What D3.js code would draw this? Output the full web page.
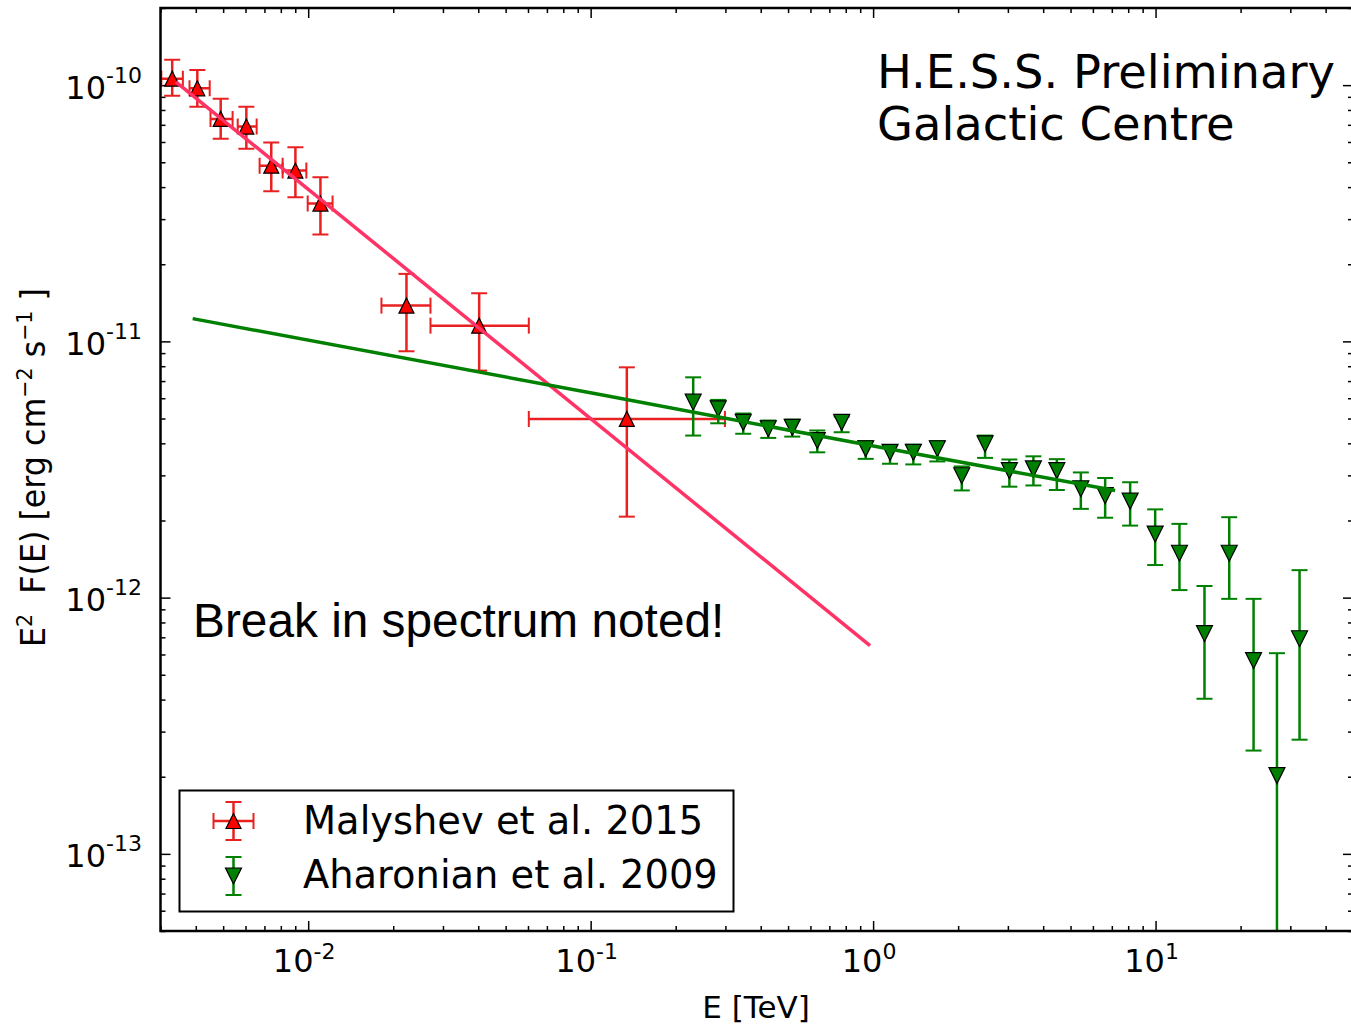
<!DOCTYPE html>
<html>
<head>
<meta charset="utf-8">
<script src="https://cdn.jsdelivr.net/npm/d3@7"></script>
<style>
    body { margin: 0; background: #fff; }
    svg { display: block; }
</style>
</head>
<body>
<svg id="chart"></svg>
<script>
// axis limits
const xLimits = [0.003, 50];
const yLimits = [5e-14, 2e-10];
const xMajorTicks = [1e-2, 1e-1, 1, 10];
const xTickExp = ['-2', '-1', '0', '1'];
const yMajorTicks = [1e-10, 1e-11, 1e-12, 1e-13];
const yTickExp = ['-10', '-11', '-12', '-13'];

// Malyshev et al. 2015 (red)
const redE    = [0.0033, 0.00405, 0.0049, 0.00604, 0.0074, 0.00901, 0.01105, 0.02228, 0.0403, 0.1343];
const redElo  = [0.00302, 0.0038, 0.00451, 0.00563, 0.00673, 0.00812, 0.00996, 0.01817, 0.0271, 0.0604];
const redEhi  = [0.0036, 0.00448, 0.0054, 0.00657, 0.00812, 0.00985, 0.0122, 0.0271, 0.0604, 0.2988];
const redF    = [1.06e-10, 9.72e-11, 7.38e-11, 6.89e-11, 4.85e-11, 4.64e-11, 3.45e-11, 1.379e-11, 1.152e-11, 4.98e-12];
const redFhi  = [1.257e-10, 1.146e-10, 8.84e-11, 8.24e-11, 5.97e-11, 5.72e-11, 4.37e-11, 1.834e-11, 1.541e-11, 7.92e-12];
const redFlo  = [9.10e-11, 8.24e-11, 6.17e-11, 5.64e-11, 3.85e-11, 3.65e-11, 2.61e-11, 9.15e-12, 7.69e-12, 2.07e-12];

// Aharonian et al. 2009 (green)
const greenE   = [0.2307, 0.2829, 0.3469, 0.4254, 0.5173, 0.6344, 0.774, 0.9415, 1.148, 1.388, 1.688, 2.06, 2.491,
                  3.037, 3.694, 4.472, 5.438, 6.63, 8.128, 9.968, 12.15, 14.9, 18.23, 22.23, 26.9, 32.34];
const greenF   = [5.79e-12, 5.45e-12, 4.83e-12, 4.56e-12, 4.62e-12, 4.10e-12, 4.83e-12, 3.81e-12, 3.69e-12, 3.69e-12,
                  3.81e-12, 2.99e-12, 3.98e-12, 3.13e-12, 3.18e-12, 3.13e-12, 2.66e-12, 2.50e-12, 2.38e-12, 1.77e-12,
                  1.49e-12, 7.24e-13, 1.49e-12, 5.68e-13, 2.02e-13, 6.91e-13];
const greenFhi = [7.24e-12, 5.91e-12, 5.23e-12, 4.91e-12, 4.95e-12, 4.49e-12, 5.09e-12, 4.08e-12, 3.92e-12, 3.95e-12,
                  4.08e-12, 3.25e-12, 4.29e-12, 3.46e-12, 3.56e-12, 3.47e-12, 3.08e-12, 2.93e-12, 2.82e-12, 2.21e-12,
                  1.94e-12, 1.11e-12, 2.06e-12, 9.89e-13, 6.07e-13, 1.28e-12];
const greenFlo = [4.29e-12, 4.79e-12, 4.36e-12, 4.20e-12, 4.25e-12, 3.69e-12, 4.42e-12, 3.48e-12, 3.33e-12, 3.31e-12,
                  3.40e-12, 2.62e-12, 3.51e-12, 2.71e-12, 2.74e-12, 2.63e-12, 2.22e-12, 2.05e-12, 1.91e-12, 1.34e-12,
                  1.07e-12, 4.03e-13, 9.89e-13, 2.53e-13, 1e-15, 2.79e-13];

// fitted spectra, [E, E^2 F(E)]
const redFit   = [[0.0034, 1.03e-10], [0.975, 6.5e-13]];
const greenFit = [[0.0039, 1.227e-11], [0.1078, 6.20e-12], [1.058, 3.86e-12], [7.19, 2.62e-12]];

const legendLabels = ['Malyshev et al. 2015', 'Aharonian et al. 2009'];
const titleLines = ['H.E.S.S. Preliminary', 'Galactic Centre'];
const noteText = 'Break in spectrum noted!';

const width = 1351, height = 1025;
const plotLeft = 160.5, plotRight = 1353, plotTop = 8, plotBottom = 931;
const redColor = '#e82020', pinkColor = '#ff3366', greenColor = '#008000';

const svg = d3.select('#chart').attr('width', width).attr('height', height)
    .style('font-family', '"DejaVu Sans", sans-serif');
svg.append('rect').attr('width', width).attr('height', height).attr('fill', '#fff');

const x = d3.scaleLog().domain(xLimits).range([plotLeft, plotRight]);
const y = d3.scaleLog().domain(yLimits).range([plotBottom, plotTop]);

function minorTicks(lo, hi) {
    const out = [];
    for (let e = Math.floor(Math.log10(lo)); e <= Math.ceil(Math.log10(hi)); e++) {
        for (let k = 2; k <= 9; k++) {
            const v = k * Math.pow(10, e);
            if (v >= lo * 0.999 && v <= hi * 1.001) out.push(v);
        }
    }
    return out;
}

function drawTicks(axis, transform, values, size) {
    const g = svg.append('g').attr('transform', transform)
        .call(axis.tickValues(values).tickSizeInner(-size).tickSizeOuter(0).tickFormat(''));
    g.select('.domain').remove();
    g.selectAll('line').attr('stroke', '#000').attr('stroke-width', 1.5);
}

const xMinor = minorTicks(xLimits[0], xLimits[1]);
const yMinor = minorTicks(yLimits[0], yLimits[1]);
[[xMajorTicks, 10], [xMinor, 5]].forEach(([vals, s]) => {
    drawTicks(d3.axisBottom(x), `translate(0,${plotBottom})`, vals, s);
    drawTicks(d3.axisTop(x), `translate(0,${plotTop})`, vals, s);
});
[[yMajorTicks, 10], [yMinor, 5]].forEach(([vals, s]) => {
    drawTicks(d3.axisLeft(y), `translate(${plotLeft},0)`, vals, s);
    drawTicks(d3.axisRight(y), `translate(${plotRight},0)`, vals, s);
});

// tick labels
xMajorTicks.forEach((v, i) => {
    const t = svg.append('text').attr('x', x(v) - 4).attr('y', 972)
        .attr('text-anchor', 'middle').attr('font-size', 32);
    t.append('tspan').text('10');
    t.append('tspan').attr('dy', -13).attr('font-size', 22).text(xTickExp[i]);
});
yMajorTicks.forEach((v, i) => {
    const t = svg.append('text').attr('x', 142).attr('y', y(v) + 13.5)
        .attr('text-anchor', 'end').attr('font-size', 32);
    t.append('tspan').text('10');
    t.append('tspan').attr('dy', -16).attr('font-size', 22).text(yTickExp[i]);
});

// axis titles
svg.append('text').attr('x', 756).attr('y', 1018).attr('text-anchor', 'middle')
    .attr('font-size', 31).text('E [TeV]');

const yTitle = svg.append('text').attr('font-size', 34);
yTitle.append('tspan').text('E');
yTitle.append('tspan').attr('dy', -13).attr('font-size', 22).text('2');
yTitle.append('tspan').attr('dy', 13).text('\u00a0 F(E) [erg cm');
yTitle.append('tspan').attr('dy', -13).attr('font-size', 22).text('\u22122');
yTitle.append('tspan').attr('dy', 13).text(' s');
yTitle.append('tspan').attr('dy', -13).attr('font-size', 22).text('\u22121');
yTitle.append('tspan').attr('dy', 13).text(' ]');
const yLen = yTitle.node().getComputedTextLength();
yTitle.attr('transform', `translate(45,${467.5 + 359 / 2}) rotate(-90) scale(${359 / yLen},1)`);

// data area
svg.append('clipPath').attr('id', 'plot-clip').append('rect')
    .attr('x', plotLeft).attr('y', plotTop).attr('width', plotRight - plotLeft).attr('height', plotBottom - plotTop);
const plot = svg.append('g').attr('clip-path', 'url(#plot-clip)');

const triUp = s => `M0,${-s}L${-s},${s}L${s},${s}Z`;
const triDown = s => `M0,${s}L${-s},${-s}L${s},${-s}Z`;

function errorBars(g, color, xs, ys, ylo, yhi, xlo, xhi) {
    const cap = 8;
    xs.forEach((e, i) => {
        const px = x(e), py = y(ys[i]);
        const bar = g.append('g').attr('stroke', color).attr('stroke-width', 2.5).attr('fill', 'none');
        bar.append('line').attr('x1', px).attr('x2', px).attr('y1', y(yhi[i])).attr('y2', y(ylo[i]));
        bar.append('line').attr('x1', px - cap).attr('x2', px + cap).attr('y1', y(yhi[i])).attr('y2', y(yhi[i])).attr('stroke-width', 2);
        bar.append('line').attr('x1', px - cap).attr('x2', px + cap).attr('y1', y(ylo[i])).attr('y2', y(ylo[i])).attr('stroke-width', 2);
        if (xlo) {
            bar.append('line').attr('x1', x(xlo[i])).attr('x2', x(xhi[i])).attr('y1', py).attr('y2', py);
            bar.append('line').attr('x1', x(xlo[i])).attr('x2', x(xlo[i])).attr('y1', py - cap).attr('y2', py + cap).attr('stroke-width', 2);
            bar.append('line').attr('x1', x(xhi[i])).attr('x2', x(xhi[i])).attr('y1', py - cap).attr('y2', py + cap).attr('stroke-width', 2);
        }
    });
}

errorBars(plot, redColor, redE, redF, redFlo, redFhi, redElo, redEhi);
errorBars(plot, greenColor, greenE, greenF, greenFlo, greenFhi);

plot.selectAll('.red-pt').data(redE).enter().append('path')
    .attr('d', triUp(7.5))
    .attr('transform', (d, i) => `translate(${x(d)},${y(redF[i])})`)
    .attr('fill', '#ff0000').attr('stroke', '#000').attr('stroke-width', 1.2);
plot.selectAll('.green-pt').data(greenE).enter().append('path')
    .attr('d', triDown(8))
    .attr('transform', (d, i) => `translate(${x(d)},${y(greenF[i])})`)
    .attr('fill', greenColor).attr('stroke', '#000').attr('stroke-width', 1.2);

const fitLine = d3.line().x(d => x(d[0])).y(d => y(d[1]));
plot.append('path').attr('d', fitLine(redFit)).attr('fill', 'none')
    .attr('stroke', pinkColor).attr('stroke-width', 3.5);
plot.append('path').attr('d', fitLine(greenFit)).attr('fill', 'none')
    .attr('stroke', greenColor).attr('stroke-width', 3.5);

// frame
svg.append('rect').attr('x', plotLeft).attr('y', plotTop).attr('width', plotRight - plotLeft).attr('height', plotBottom - plotTop)
    .attr('fill', 'none').attr('stroke', '#000').attr('stroke-width', 2.5);

// title and note
titleLines.forEach((line, i) => {
    svg.append('text').attr('x', 877).attr('y', 88 + i * 52).attr('font-size', 46.4).text(line);
});
svg.append('text').attr('x', 193).attr('y', 637).attr('font-size', 47.8)
    .style('font-family', '"Liberation Sans", Arial, sans-serif').text(noteText);

// legend
const legend = svg.append('g');
legend.append('rect').attr('x', 179.5).attr('y', 790.5).attr('width', 554).attr('height', 121)
    .attr('fill', '#fff').attr('stroke', '#000').attr('stroke-width', 2);
[[redColor, '#ff0000', triUp(7.5), true], [greenColor, greenColor, triDown(8), false]].forEach(([c, fill, shape, xerr], i) => {
    const cy = 821 + i * 55, cx = 233.5;
    const g = legend.append('g').attr('stroke', c).attr('stroke-width', 2.5);
    g.append('line').attr('x1', cx).attr('x2', cx).attr('y1', cy - 19).attr('y2', cy + 19);
    g.append('line').attr('x1', cx - 8).attr('x2', cx + 8).attr('y1', cy - 19).attr('y2', cy - 19).attr('stroke-width', 2);
    g.append('line').attr('x1', cx - 8).attr('x2', cx + 8).attr('y1', cy + 19).attr('y2', cy + 19).attr('stroke-width', 2);
    if (xerr) {
        g.append('line').attr('x1', cx - 20).attr('x2', cx + 20).attr('y1', cy).attr('y2', cy);
        g.append('line').attr('x1', cx - 20).attr('x2', cx - 20).attr('y1', cy - 8).attr('y2', cy + 8).attr('stroke-width', 2);
        g.append('line').attr('x1', cx + 20).attr('x2', cx + 20).attr('y1', cy - 8).attr('y2', cy + 8).attr('stroke-width', 2);
    }
    legend.append('path').attr('d', shape).attr('transform', `translate(${cx},${cy})`)
        .attr('fill', fill).attr('stroke', '#000').attr('stroke-width', 1.2);
    legend.append('text').attr('x', 303).attr('y', 834 + i * 54).attr('font-size', 38.4).text(legendLabels[i]);
});
</script>
</body>
</html>
